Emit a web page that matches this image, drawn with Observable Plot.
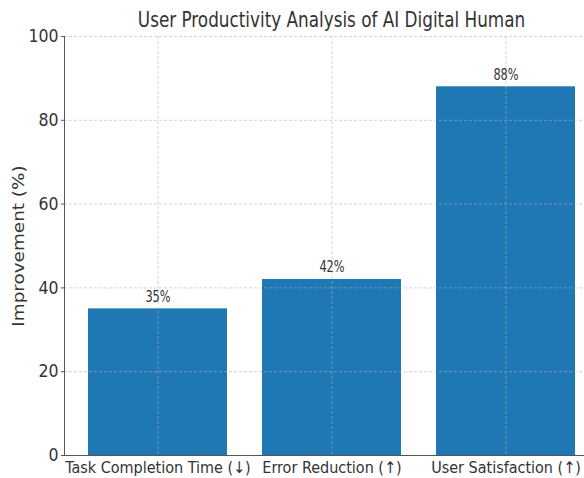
<!DOCTYPE html>
<html><head><meta charset="utf-8">
<script src="https://cdn.jsdelivr.net/npm/d3@7"></script>
<script src="https://cdn.jsdelivr.net/npm/@observablehq/plot@0.6"></script>
<style>
body{margin:0;background:#fff;}
</style></head><body>
<div id="chart"></div>
<script>
const title = "User Productivity Analysis of AI Digital Human";
const categories = ["Task Completion Time (↓)", "Error Reduction (↑)", "User Satisfaction (↑)"];
const values = [35, 42, 88];
const yTicks = [0, 20, 40, 60, 80, 100];
const yLabel = "Improvement (%)";
const data = categories.map((c, i) => ({category: c, value: values[i], label: values[i] + "%"}));
const cond = '"DejaVu Sans Condensed", "DejaVu Sans"';
const gridStyle = {stroke: "#b0b0b0", strokeDasharray: "3,2", strokeOpacity: 0.7, strokeWidth: 0.8};
const plot = Plot.plot({
  width: 584, height: 478, marginTop: 36, marginBottom: 23, marginLeft: 64, marginRight: 0,
  style: {fontFamily: cond, background: "#fff", color: "#333"},
  x: {domain: categories, range: [70.6, 592.6], paddingInner: 0.2, paddingOuter: 0.1},
  y: {domain: [0, 100]},
  marks: [
    Plot.barY(data, {x: "category", y: "value", fill: "#1f77b4"}),
    Plot.gridY(yTicks, gridStyle),
    Plot.gridX(categories, gridStyle),
    Plot.text(data, {x: "category", y: "value", text: "label", dy: -12, fontSize: 15, fill: "#333"}),
    Plot.axisY(yTicks, {tickSize: 3, tickPadding: 3, fontSize: 17.5, label: null, stroke: "#555"}),
    Plot.axisX({tickSize: 0, tickPadding: 6, fontSize: 16, label: null}),
    Plot.frame({anchor: "left", stroke: "#555"}),
    Plot.frame({anchor: "bottom", stroke: "#555"}),
    Plot.text([yLabel], {frameAnchor: "left", textAnchor: "middle", dx: -46, rotate: -90, fontSize: 18.4, fontFamily: "DejaVu Sans", fill: "#333"}),
    Plot.text([title], {frameAnchor: "top", textAnchor: "middle", lineAnchor: "middle", dx: 7, dy: -16.5, fontSize: 21.5, fill: "#333"})
  ]
});
document.getElementById("chart").appendChild(plot);
// narrow the glyphs to match the reference's horizontally compressed lettering
function narrow(group, s) {
  if (!group) return;
  group.querySelectorAll("text").forEach(t => {
    const len = t.getComputedTextLength();
    if (len > 0) {
      t.setAttribute("textLength", (len * s).toFixed(1));
      t.setAttribute("lengthAdjust", "spacingAndGlyphs");
    }
  });
}
const textGroups = plot.querySelectorAll('g[aria-label="text"]');
narrow(textGroups[0], 0.84);   // bar value labels
narrow(textGroups[2], 0.87);   // title
if (textGroups[1]) textGroups[1].querySelectorAll("text").forEach(t => {
  const tr = t.getAttribute("transform");
  if (tr) t.setAttribute("transform", tr + " scale(1,0.85)");
});
</script>
</body></html>
